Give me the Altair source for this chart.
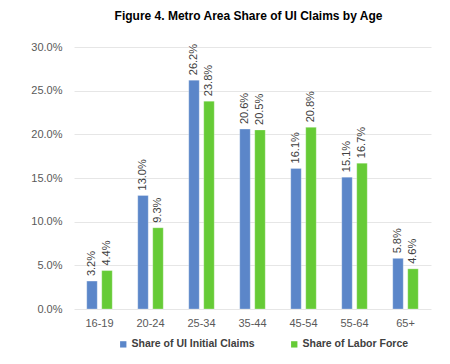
import altair as alt
import pandas as pd

ages = ["16-19", "20-24", "25-34", "35-44", "45-54", "55-64", "65+"]
ui_claims = [3.2, 13.0, 26.2, 20.6, 16.1, 15.1, 5.8]
labor_force = [4.4, 9.3, 23.8, 20.5, 20.8, 16.7, 4.6]
series_names = ["Share of UI Initial Claims", "Share of Labor Force"]
colors = ["#5B86C9", "#66CB36"]
y_ticks = [0, 5, 10, 15, 20, 25, 30]

rows = []
for i, a in enumerate(ages):
    rows.append({"age": a, "series": series_names[0], "value": ui_claims[i]})
    rows.append({"age": a, "series": series_names[1], "value": labor_force[i]})
df = pd.DataFrame(rows)

font = "Liberation Sans"

x = alt.X("age:N", sort=ages, title=None,
          scale=alt.Scale(paddingInner=0.5, paddingOuter=0.25),
          axis=alt.Axis(labelAngle=0, labelFont=font, labelFontSize=11, labelColor="#595959",
                        domain=False, ticks=False, labelPadding=8))
xo = alt.XOffset("series:N", sort=series_names, scale=alt.Scale(paddingInner=0.3))
y = alt.Y("value:Q", title=None,
          scale=alt.Scale(domain=[0, 30], nice=False),
          axis=alt.Axis(values=y_ticks, labelExpr="format(datum.value, '.1f') + '%'",
                        labelFont=font, labelFontSize=11, labelColor="#595959",
                        domain=False, ticks=False, labelPadding=12,
                        gridColor="#E6E6E6", gridWidth=1))

color = alt.Color("series:N", sort=series_names,
                  scale=alt.Scale(domain=series_names, range=colors),
                  legend=alt.Legend(title=None, orient="none", direction="horizontal",
                                    legendX=44, legendY=292, symbolType="square",
                                    symbolSize=40, symbolStrokeWidth=0,
                                    labelFont=font, labelFontSize=10.5, labelFontWeight="bold",
                                    labelColor="#404040", columnPadding=34, labelOffset=3))

base = alt.Chart(df).encode(x=x, xOffset=xo, y=y)

bars = base.mark_bar(strokeWidth=0.8, stroke="#FFFFFF", strokeOpacity=0.35).encode(color=color)

labels = base.transform_calculate(
    lab="format(datum.value, '.1f') + '%'"
).mark_text(angle=270, align="left", baseline="middle", dx=5,
            font=font, fontSize=11, color="#404040").encode(text="lab:N")

chart = alt.layer(bars, labels).properties(
    width=357, height=262,
    autosize=alt.AutoSizeParams(type="none"),
    padding={"left": 66, "top": 39, "right": 11, "bottom": 55},
    title=alt.TitleParams("Figure 4. Metro Area Share of UI Claims by Age",
                          font=font, fontSize=12, fontWeight="bold", color="#000000",
                          anchor="middle", offset=18, dx=-4),
).configure_view(stroke=None)

chart.save("out.html", embed_options={"renderer": "svg", "actions": False})
